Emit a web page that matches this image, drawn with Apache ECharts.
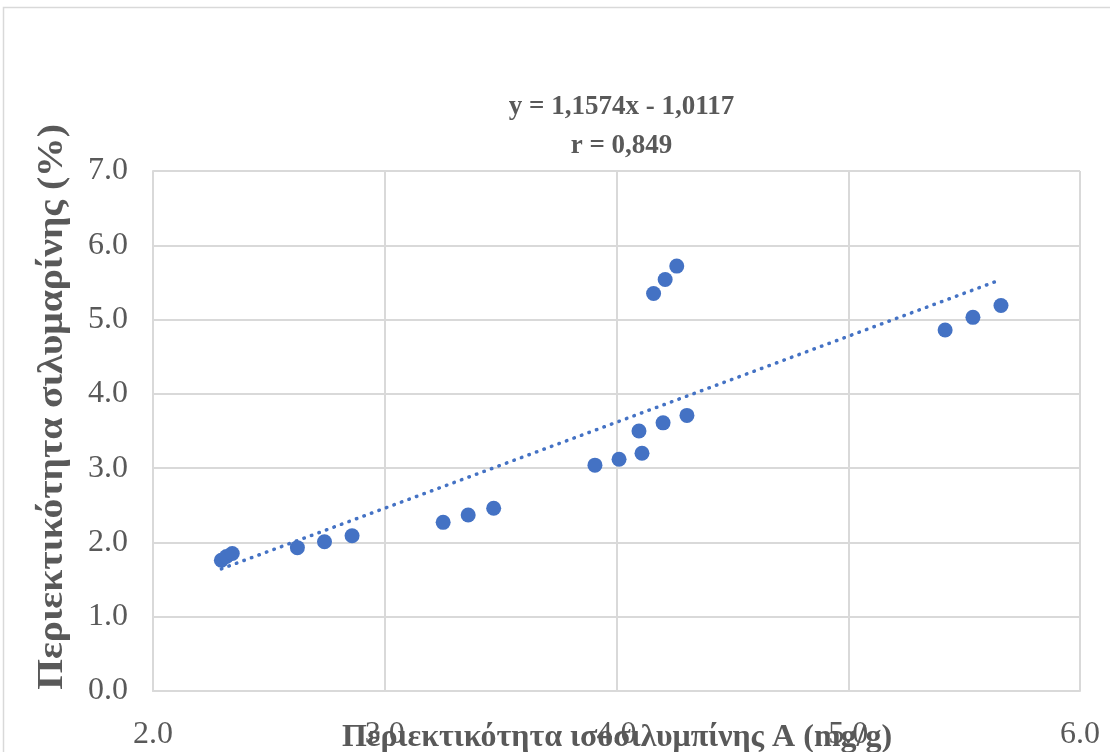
<!DOCTYPE html>
<html>
<head>
<meta charset="utf-8">
<script src="https://cdn.jsdelivr.net/npm/echarts@6/dist/echarts.min.js"></script>
<style>
html,body{margin:0;padding:0;background:#fff;}
#main{width:1110px;height:752px;}
</style>
</head>
<body>
<div id="main"></div>
<script>
// Data
const xValues = [2.295, 2.317, 2.342, 2.623, 2.740, 2.859, 3.252, 3.360, 3.470, 3.907, 4.011, 4.097, 4.110, 4.201, 4.304, 4.160, 4.210, 4.260, 5.418, 5.538, 5.659];
const yValues = [1.76, 1.81, 1.85, 1.93, 2.01, 2.09, 2.27, 2.37, 2.46, 3.04, 3.12, 3.50, 3.20, 3.61, 3.71, 5.35, 5.54, 5.72, 4.86, 5.03, 5.19];
const slope = 1.1574;
const intercept = -1.0117;
const equationText = 'y = 1,1574x - 1,0117';
const rText = 'r = 0,849';
const xTitle = 'Περιεκτικότητα ισοσιλυμπίνης A (mg/g)';
const yTitle = 'Περιεκτικότητα σιλυμαρίνης (%)';

const points = xValues.map((x, i) => [x, yValues[i]]);
const xMin = Math.min(...xValues), xMax = Math.max(...xValues);
const trend = [[xMin, slope * xMin + intercept], [xMax, slope * xMax + intercept]];

const serif = '"Liberation Serif", "DejaVu Serif", serif';
const gray = '#595959';
const chart = echarts.init(document.getElementById('main'), null, {renderer: 'canvas'});
chart.setOption({
  animation: false,
  backgroundColor: '#ffffff',
  title: {
    text: equationText + '\n' + rText,
    left: 616.5,
    top: 83,
    textAlign: 'center',
    textStyle: {fontFamily: serif, fontWeight: 'bold', fontSize: 27, color: gray, lineHeight: 39}
  },
  graphic: [
    {
      type: 'rect',
      shape: {x: 3.5, y: 7.5, width: 1300, height: 900},
      style: {fill: 'none', stroke: '#d9d9d9', lineWidth: 1.5},
      silent: true, z: -10
    },
    {
      type: 'text', x: 617, y: 738, z: 10, silent: true,
      style: {text: xTitle, fontFamily: serif, fontWeight: 'bold', fontSize: 32, fill: gray,
               align: 'center', verticalAlign: 'middle'}
    },
    {
      type: 'text', x: 53, y: 407, rotation: Math.PI / 2, scaleX: 1.13, z: 10, silent: true,
      style: {text: yTitle, fontFamily: serif, fontWeight: 'bold', fontSize: 35, fill: gray,
               align: 'center', verticalAlign: 'middle'}
    }
  ],
  grid: {left: 153, right: 30, top: 171, bottom: 61, containLabel: false, outerBoundsMode: 'none'},
  xAxis: {
    type: 'value', min: 2, max: 6, interval: 1,
    axisLine: {show: true, lineStyle: {color: '#d9d9d9', width: 2}},
    axisTick: {show: false},
    axisLabel: {formatter: v => v.toFixed(1), fontFamily: serif, fontSize: 32, color: gray, margin: 28},
    splitLine: {show: true, lineStyle: {color: '#d9d9d9', width: 2}}
  },
  yAxis: {
    type: 'value', min: 0, max: 7, interval: 1,
    axisLine: {show: true, lineStyle: {color: '#d9d9d9', width: 2}},
    axisTick: {show: false},
    axisLabel: {formatter: v => v.toFixed(1), fontFamily: serif, fontSize: 32, color: gray, margin: 25},
    splitLine: {show: true, lineStyle: {color: '#d9d9d9', width: 2}}
  },
  series: [
    {
      type: 'line', data: trend, symbol: 'none', silent: true, z: 1,
      lineStyle: {color: '#4472C4', width: 3.5, type: [0.5, 7.5], cap: 'round'}
    },
    {
      type: 'scatter', data: points, symbol: 'circle', symbolSize: 15, z: 2,
      itemStyle: {color: '#4472C4', opacity: 1}
    }
  ]
});
</script>
</body>
</html>
